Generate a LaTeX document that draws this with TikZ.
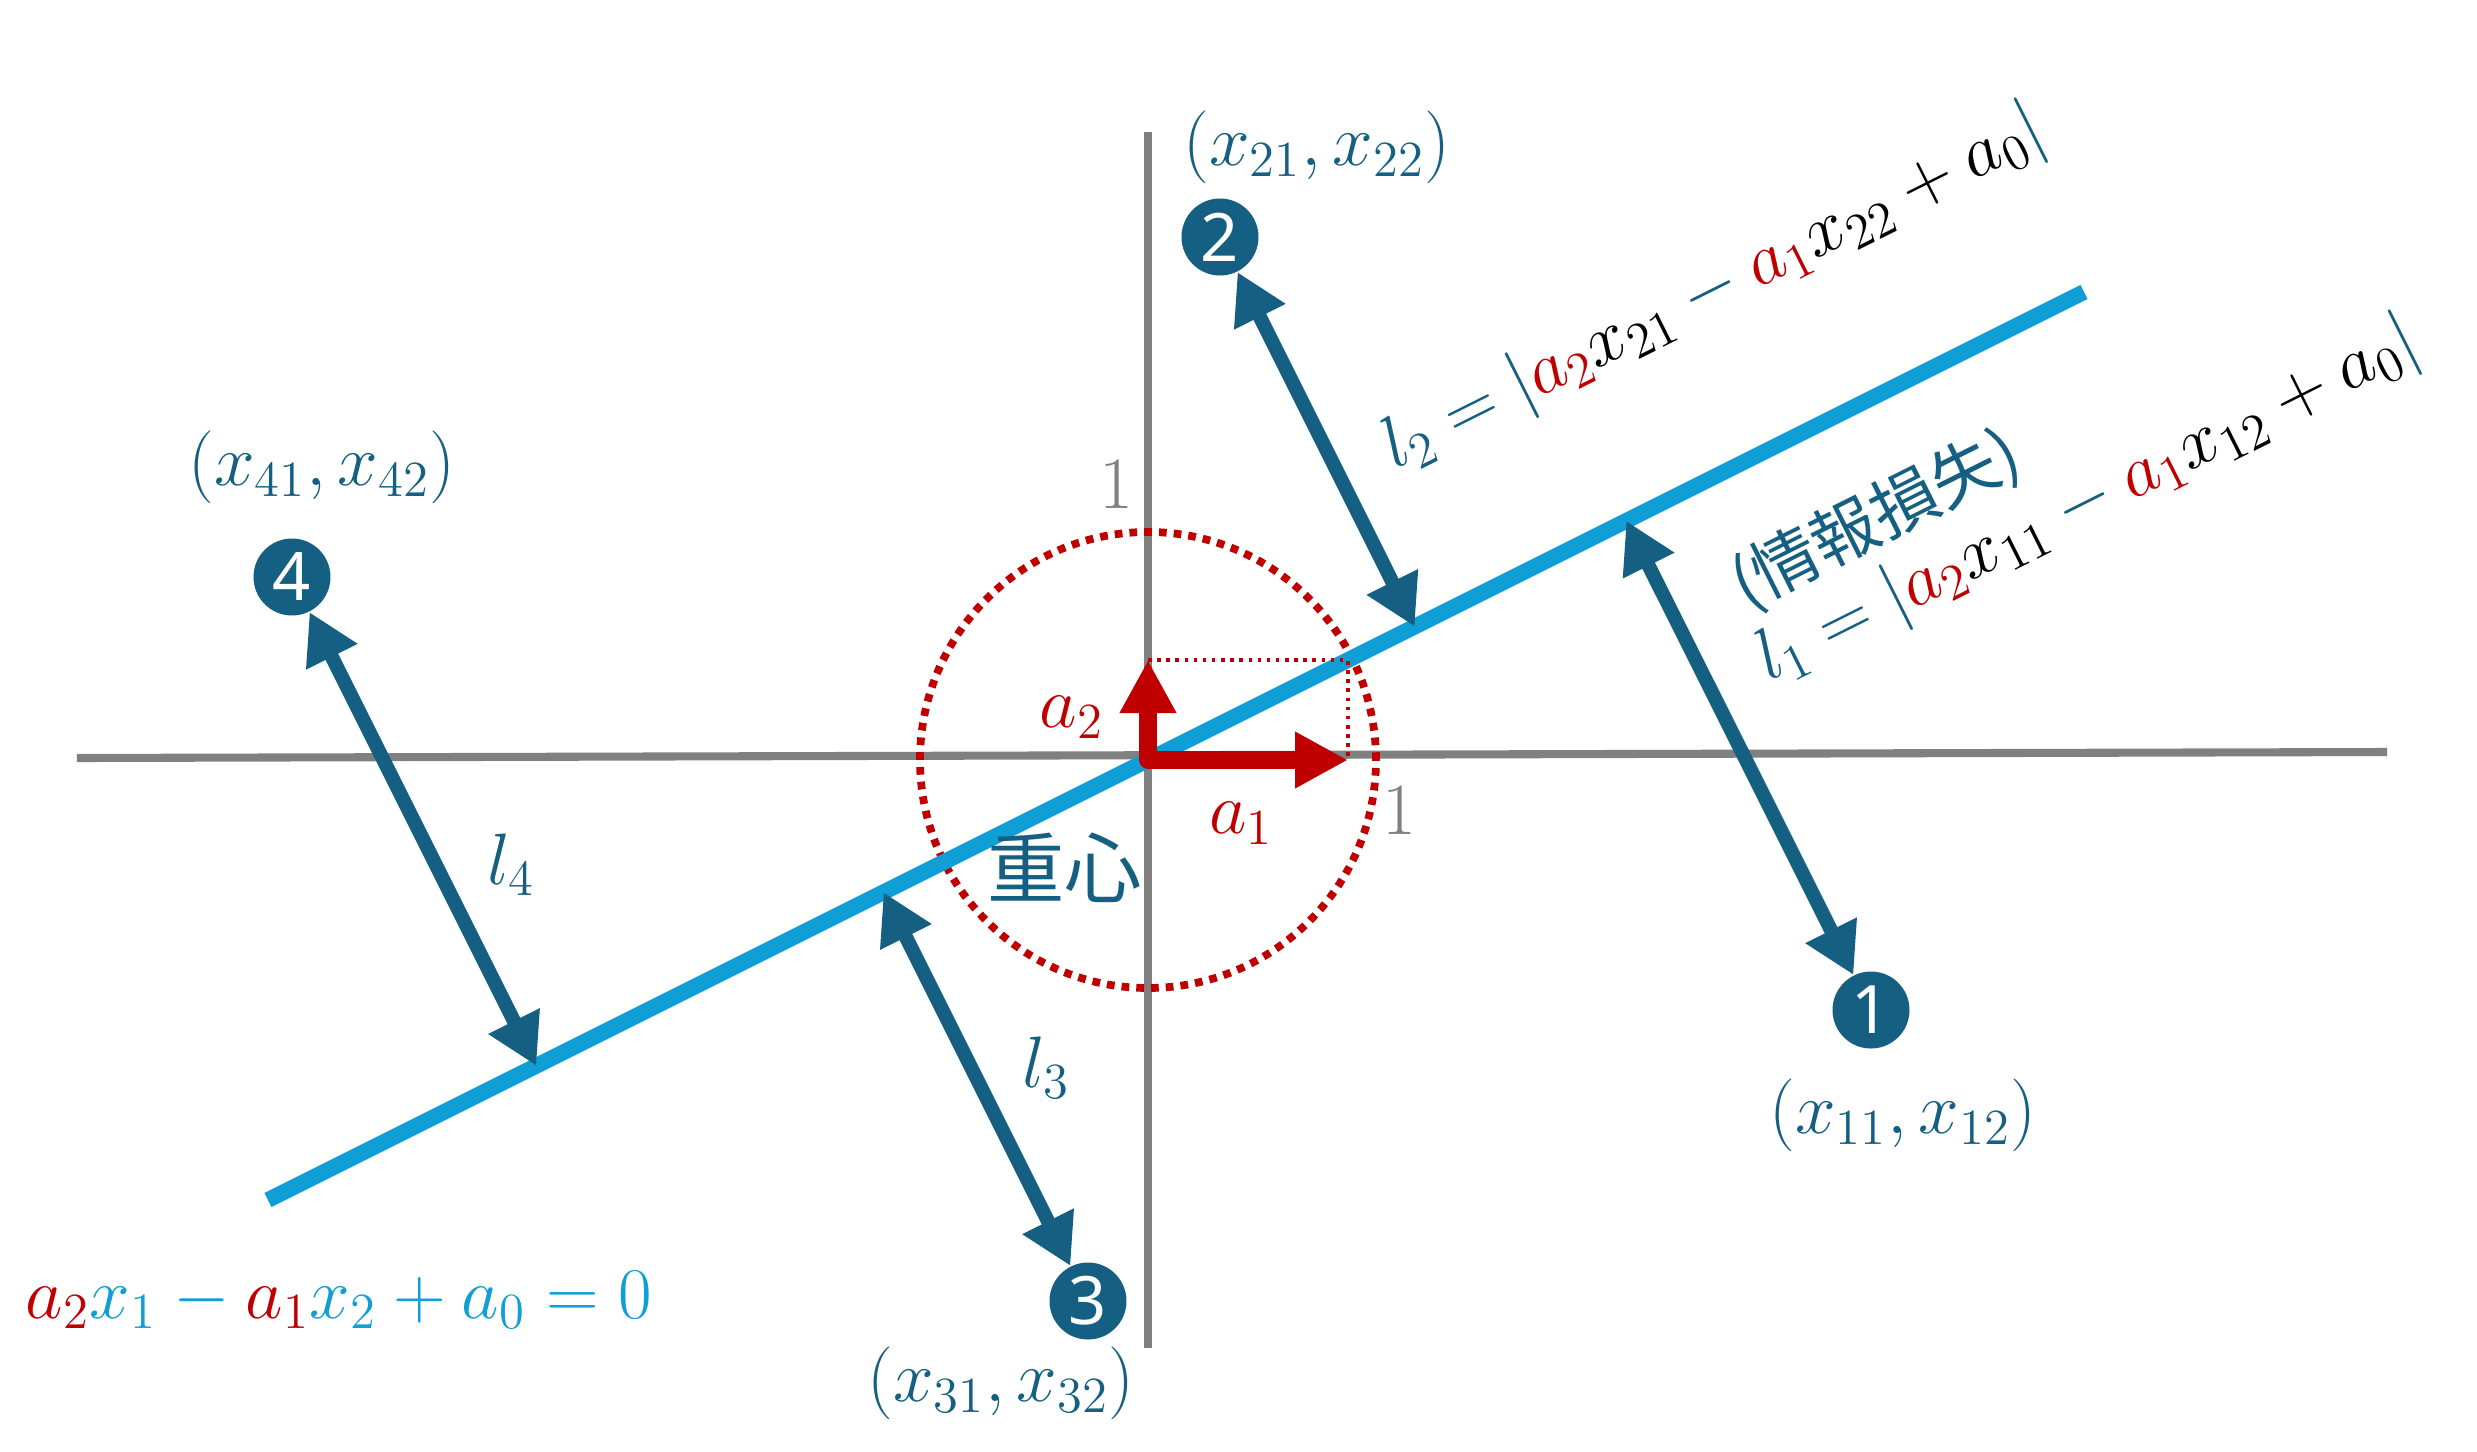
\documentclass[tikz,border=0pt]{standalone}
\usepackage{fontspec}
\newfontfamily\jpfont{Noto Sans CJK JP}
\newfontfamily\numfont{Noto Sans}
\usetikzlibrary{arrows.meta,calc}
\definecolor{mainblue}{HTML}{156082}
\definecolor{lineblue}{HTML}{0F9ED5}
\definecolor{accred}{HTML}{C00000}
\definecolor{axisgray}{HTML}{808080}
\newcommand{\cred}[1]{\textcolor{accred}{#1}}
\newcommand{\cblk}[1]{\textcolor{black}{#1}}
\tikzset{
  axisline/.style = {draw=axisgray, line width=2.3pt},
  fitline/.style = {draw=lineblue, line width=4.5pt},
  unitcircle/.style = {draw=accred, line width=2.2pt,
    dash pattern=on 2.2pt off 2pt},
  helpline/.style = {draw=accred, line width=1pt,
    dash pattern=on 1pt off 1.6pt},
  vecarrow/.style = {draw=accred, line width=5pt, line join=round,
    {Triangle[length=0.53cm, width=0.53cm]}-{Triangle[length=0.53cm, width=0.53cm]}},
  distarrow/.style = {draw=mainblue, line width=4pt,
    {Triangle[length=0.5cm, width=0.54cm]}-{Triangle[length=0.5cm, width=0.54cm]}},
  pnode/.style = {circle, fill=mainblue, text=white, inner sep=0pt,
    minimum size=0.77cm, font=\numfont\fontsize{19}{19}\selectfont},% data point
  coordlabel/.style = {text=mainblue, inner sep=0pt,
    font=\fontsize{20.5}{24}\selectfont},
  veclabel/.style = {text=accred, inner sep=0pt,
    font=\fontsize{20}{24}\selectfont},
  unitlabel/.style = {text=axisgray, inner sep=0pt,
    font=\fontsize{21}{24}\selectfont},
  jplabel/.style = {text=mainblue, inner sep=0pt,
    font=\jpfont\fontsize{22}{26}\selectfont},
  distlabel/.style = {text=mainblue, inner sep=0pt, rotate=26.6,
    font=\fontsize{22}{26}\selectfont}
}

\begin{document}
\begin{tikzpicture}
\useasboundingbox (-11.48,-6.91) rectangle (13.29,7.60);
% axes
\draw[axisline] (-10.71,0.02) -- (12.39,0.08);
\draw[axisline] (0,6.28) -- (0,-5.88);
\node[unitlabel] (one_y) at (-0.32,2.76) {1};
\node[unitlabel] (one_x) at (2.51,-0.50) {1};
% unit circle
\coordinate (O) at (0,0);
\draw[unitcircle] (O) circle (2.28);
% fitted line
\coordinate (lineS) at (-8.8,-4.4);
\coordinate (lineE) at (9.36,4.68);
\draw[fitline] (lineS) -- (lineE);
% direction vector (a1,a2)
\coordinate (a1end) at (2,0);
\coordinate (a2end) at (0,1);
\draw[helpline] (a2end) -- (a1end |- a2end) -- (a1end);
\draw[vecarrow] (a2end) -- (O) -- (a1end);
\node[veclabel] (lab_a2) at (-0.76,0.43) {$a_2$};
\node[veclabel] (lab_a1) at (0.93,-0.63) {$a_1$};
\node[jplabel] (center) at (-0.83,-1.08) {重心};
% data points
\node[pnode] (p1) at (7.23,-2.50) {1};
\node[pnode] (p2) at (0.72,5.23) {2};
\node[pnode] (p3) at (-0.60,-5.41) {3};
\node[pnode] (p4) at (-8.56,1.83) {4};
\node[coordlabel] (c1) at (7.55,-3.55) {$(x_{11},x_{12})$};
\node[coordlabel] (c2) at (1.69,6.13) {$(x_{21},x_{22})$};
\node[coordlabel] (c3) at (-1.47,-6.23) {$(x_{31},x_{32})$};
\node[coordlabel] (c4) at (-8.26,2.93) {$(x_{41},x_{42})$};
% distances to the line
\draw[distarrow] (p1) -- ($(lineS)!(p1)!(lineE)$);
\draw[distarrow] (p2) -- ($(lineS)!(p2)!(lineE)$);
\draw[distarrow] (p3) -- ($(lineS)!(p3)!(lineE)$);
\draw[distarrow] (p4) -- ($(lineS)!(p4)!(lineE)$);
\node[coordlabel] (l3) at (-1.02,-3.08) {$l_3$};
\node[coordlabel] (l4) at (-6.37,-1.05) {$l_4$};
\node[distlabel] (l2) at (5.66,4.70)
  {$l_2=|\cred{a_2}\cblk{x_{21}}-\cred{a_1}\cblk{x_{22}}\mathbin{\cblk{+}}\cblk{a_0}|$};
\node[distlabel] (l1) at (9.40,2.58)
  {$l_1=|\cred{a_2}\cblk{x_{11}}-\cred{a_1}\cblk{x_{12}}\mathbin{\cblk{+}}\cblk{a_0}|$};
\node[distlabel, font=\jpfont\fontsize{19}{23}\selectfont] (loss) at (7.28,2.40) {(情報損失)};
% equation of the line
\node[text=lineblue, inner sep=0pt, font=\fontsize{21.5}{25}\selectfont] (eq) at (-8.09,-5.40)
  {$\cred{a_2}x_1-\cred{a_1}x_2+a_0=0$};
\end{tikzpicture}
\end{document}
